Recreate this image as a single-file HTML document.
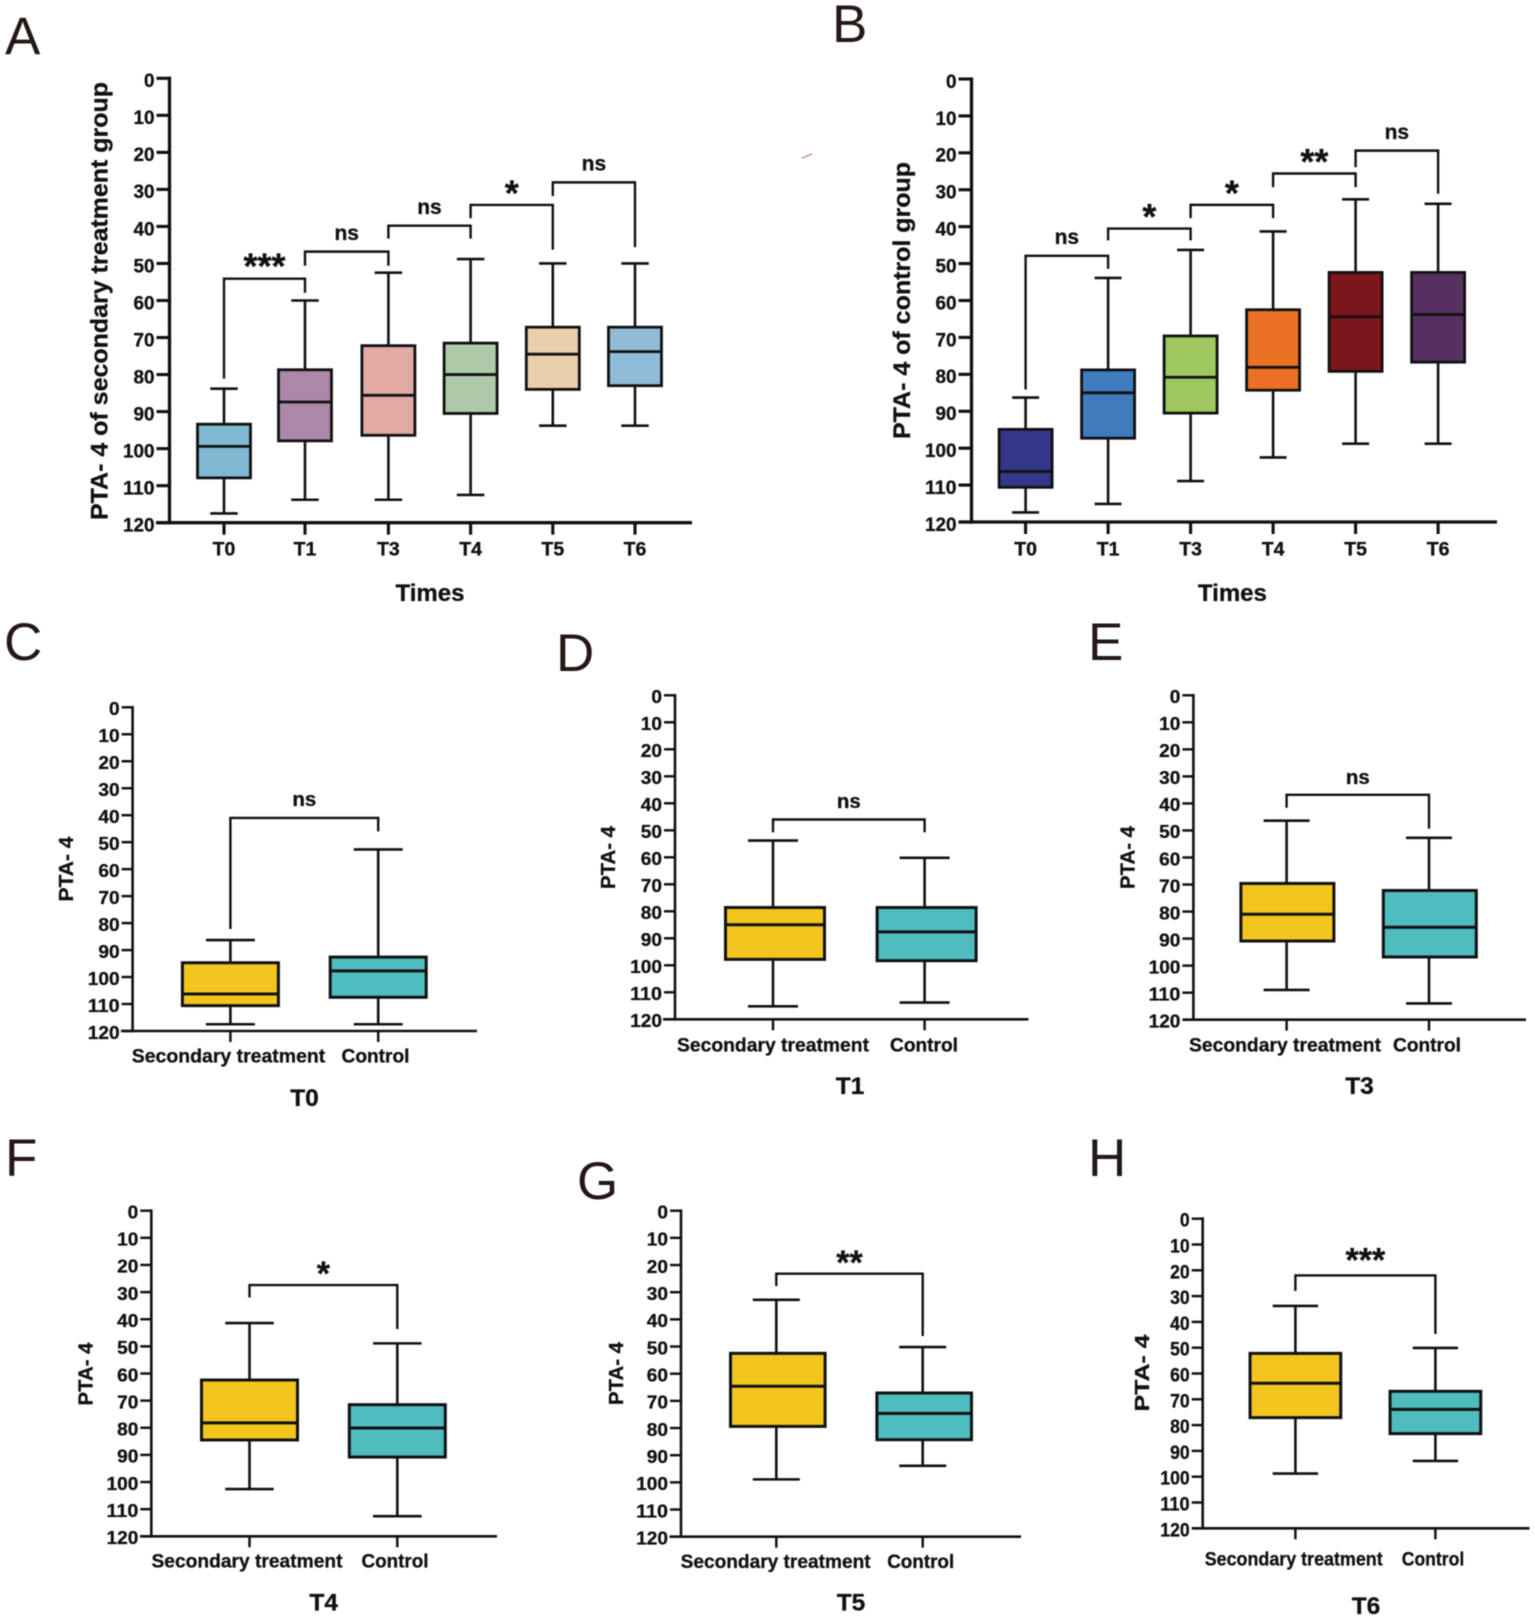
<!DOCTYPE html>
<html lang="en">
<head>
<meta charset="utf-8">
<title>PTA-4 box plots</title>
<style>
html,body{margin:0;padding:0;background:#fff;}
#figure{display:block;width:1535px;height:1620px;filter:blur(0.45px);}
text{font-family:"Liberation Sans",Arial,sans-serif;fill:#111;stroke:#111;stroke-width:0.3px;}
</style>
</head>
<body>
<svg id="figure" xmlns="http://www.w3.org/2000/svg" width="1535" height="1620" viewBox="0 0 1535 1620"></svg>
<script>
// Shared axis data
const yTicks = [0, 10, 20, 30, 40, 50, 60, 70, 80, 90, 100, 110, 120];
const timeCategories = ['T0', 'T1', 'T3', 'T4', 'T5', 'T6'];
const groupCategories = ['Secondary treatment', 'Control'];

// Panel A
const aWhiskerTop = [83.8, 60, 52.5, 48.8, 50, 50];
const aQ1 = [93.4, 78.7, 72.2, 71.5, 67.2, 67.2];
const aMedian = [99.4, 87.4, 85.6, 80, 74.5, 73.8];
const aQ3 = [107.9, 97.9, 96.4, 90.5, 84, 83];
const aWhiskerBottom = [117.5, 113.8, 113.8, 112.5, 93.8, 93.8];
const aBracketFrom = [0, 1, 2, 3, 4];
const aBracketTop = [54.1, 46.8, 39.8, 34.2, 28.1];
const aBracketLeftEnd = [81.1, 50.6, 43.3, 37.8, 31.8];
const aBracketRightEnd = [57.9, 50.6, 43.3, 46.3, 45.6];
const aBracketLabel = ['***', 'ns', 'ns', '*', 'ns'];
const aBracketLabelY = [49.3, 41.8, 34.8, 29.6, 23.1];

// Panel B
const bWhiskerTop = [86.3, 53.9, 46.3, 41.3, 32.6, 33.8];
const bQ1 = [94.9, 78.8, 69.6, 62.5, 52.4, 52.4];
const bMedian = [106.3, 85, 80.8, 78.1, 64.4, 63.8];
const bQ3 = [110.6, 97.3, 90.5, 84.3, 79.2, 76.7];
const bWhiskerBottom = [117.4, 115.1, 108.9, 102.5, 98.8, 98.8];
const bBracketFrom = [0, 1, 2, 3, 4];
const bBracketTop = [47.9, 40.5, 34.1, 25.6, 19.4];
const bBracketLeftEnd = [84.1, 43.7, 37.7, 29.3, 23.9];
const bBracketRightEnd = [51.4, 43.7, 37.7, 29.3, 31.1];
const bBracketLabel = ['ns', '*', '*', '**', 'ns'];
const bBracketLabelY = [42.9, 35.9, 29.5, 21, 14.5];

// Panels C-H
const cWhiskerTop = [86.3, 52.7];
const cQ1 = [94.7, 92.6];
const cMedian = [106.3, 97.7];
const cQ3 = [110.6, 107.5];
const cWhiskerBottom = [117.5, 117.5];
const cBracketTop = [41];
const cBracketLeftEnd = [82.2];
const cBracketRightEnd = [46];
const cBracketLabel = ['ns'];
const cBracketLabelY = [34.1];

const dWhiskerTop = [53.8, 60.2];
const dQ1 = [78.6, 78.6];
const dMedian = [85, 87.6];
const dQ3 = [97.8, 98.3];
const dWhiskerBottom = [115.2, 113.8];
const dBracketTop = [46];
const dBracketLeftEnd = [50.7];
const dBracketRightEnd = [50.7];
const dBracketLabel = ['ns'];
const dBracketLabelY = [39.4];

const eWhiskerTop = [46.4, 52.7];
const eQ1 = [69.6, 72.2];
const eMedian = [81, 85.8];
const eQ3 = [90.9, 96.8];
const eWhiskerBottom = [109, 114];
const eBracketTop = [36.8];
const eBracketLeftEnd = [41.6];
const eBracketRightEnd = [49.3];
const eBracketLabel = ['ns'];
const eBracketLabelY = [30.4];

const fWhiskerTop = [41.4, 48.9];
const fQ1 = [62.4, 71.5];
const fMedian = [78.2, 80.1];
const fQ3 = [84.5, 90.8];
const fWhiskerBottom = [102.6, 112.6];
const fBracketTop = [27.4];
const fBracketLeftEnd = [32];
const fBracketRightEnd = [43.6];
const fBracketLabel = ['*'];
const fBracketLabelY = [21.3];

const gWhiskerTop = [32.8, 50.2];
const gQ1 = [52.5, 67.1];
const gMedian = [64.6, 74.6];
const gQ3 = [79.4, 84.3];
const gWhiskerBottom = [98.9, 93.9];
const gBracketTop = [23.2];
const gBracketLeftEnd = [27.7];
const gBracketRightEnd = [46.1];
const gBracketLabel = ['**'];
const gBracketLabelY = [17.2];

const hWhiskerTop = [33.8, 50.1];
const hQ1 = [52.2, 66.9];
const hMedian = [63.8, 73.9];
const hQ3 = [77.1, 83.3];
const hWhiskerBottom = [98.8, 93.9];
const hBracketTop = [22];
const hBracketLeftEnd = [28];
const hBracketRightEnd = [44.7];
const hBracketLabel = ['***'];
const hBracketLabelY = [14.1];

// Styling (not data)
const aFills = ['#7fb8d0', '#ab88a8', '#e0aaa5', '#afcaa9', '#eacfab', '#90bcd8'];
const bFills = ['#35388a', '#3f7bbd', '#9cc85f', '#ea7024', '#7c151c', '#57305f'];
const groupFills = ['#f2c61e', '#4fbcbf'];

const svgNS = 'http://www.w3.org/2000/svg';
const figure = document.getElementById('figure');

function add(parent, tag, attrs, content) {
  const node = document.createElementNS(svgNS, tag);
  for (const k in attrs) node.setAttribute(k, attrs[k]);
  if (content !== undefined) node.textContent = content;
  parent.appendChild(node);
  return node;
}

function renderPanel(p) {
  const yScale = v => p.y0 + (v / 120) * (p.y120 - p.y0);
  const xScale = i => p.cat0 + i * p.step + (p.catNudge ? p.catNudge[i] : 0);
  const boxOffset = p.boxOffset || 0;
  const ink = '#111';

  const g = add(figure, 'g', {});
  
  

  const letter = add(g, 'text', {x: p.letterX, y: p.letterY, 'font-size': 53, style: 'fill:#231815;stroke:none'}, p.id.toUpperCase());
  
  

  const yAxis = add(g, 'line', {x1: p.axisX, x2: p.axisX, y1: yScale(0) - p.axisW / 2, y2: yScale(120) + p.axisW / 2, stroke: ink, 'stroke-width': p.axisW});
  
  

  const xAxis = add(g, 'line', {x1: p.xStart, x2: p.xEnd, y1: yScale(120), y2: yScale(120), stroke: ink, 'stroke-width': p.axisW});
  
  

  yTicks.forEach(t => {
    const tick = add(g, 'line', {x1: p.axisX - p.yTickLen, x2: p.axisX, y1: yScale(t), y2: yScale(t), stroke: ink, 'stroke-width': p.axisW * 0.95});
    
    
    const s = String(t);
    const label = add(g, 'text', {x: p.axisX - p.yTickLen - 2, y: yScale(t) + p.tickFs * 0.36 + p.tickDy, 'font-size': p.tickFs, 'font-weight': 'bold', 'text-anchor': 'end', textLength: (s.length * p.tickCharW).toFixed(1), lengthAdjust: 'spacingAndGlyphs'}, s);
    
    
  });

  p.categories.forEach((c, i) => {
    const x = xScale(i);
    const tick = add(g, 'line', {x1: x, x2: x, y1: yScale(120), y2: yScale(120) + p.xTickLen, stroke: ink, 'stroke-width': p.axisW * 0.95});
    
    

    const attrs = {x: p.catLabelX ? p.catLabelX[i] : x, y: p.catLabelY, 'font-size': p.catFs, 'font-weight': 'bold', 'text-anchor': 'middle'};
    if (p.catLabelW) { attrs.textLength = p.catLabelW[i]; attrs.lengthAdjust = 'spacingAndGlyphs'; }
    const label = add(g, 'text', attrs, c);
    
    

    const box = add(g, 'g', {});
    
    

    const whisker = add(box, 'line', {x1: x, x2: x, y1: yScale(p.whiskerTop[i]), y2: yScale(p.whiskerBottom[i]), stroke: ink, 'stroke-width': p.lineW});
    
    

    const capTop = add(box, 'line', {x1: x - p.capW / 2, x2: x + p.capW / 2, y1: yScale(p.whiskerTop[i]), y2: yScale(p.whiskerTop[i]), stroke: ink, 'stroke-width': p.lineW});
    
    

    const capBottom = add(box, 'line', {x1: x - p.capW / 2, x2: x + p.capW / 2, y1: yScale(p.whiskerBottom[i]), y2: yScale(p.whiskerBottom[i]), stroke: ink, 'stroke-width': p.lineW});
    
    

    const rect = add(box, 'rect', {x: x + boxOffset - p.boxW / 2, y: yScale(p.q1[i]), width: p.boxW, height: yScale(p.q3[i]) - yScale(p.q1[i]), fill: p.fills[i], stroke: ink, 'stroke-width': p.boxStroke});
    
    

    const median = add(box, 'line', {x1: x + boxOffset - p.boxW / 2, x2: x + boxOffset + p.boxW / 2, y1: yScale(p.median[i]), y2: yScale(p.median[i]), stroke: ink, 'stroke-width': p.boxStroke});
    
    
  });

  p.bracketTop.forEach((top, i) => {
    const from = p.bracketFrom ? p.bracketFrom[i] : 0;
    const xa = xScale(from), xb = xScale(from + 1);
    const d = 'M' + xa + ' ' + yScale(p.bracketLeftEnd[i]) + ' V' + yScale(top) + ' H' + xb + ' V' + yScale(p.bracketRightEnd[i]);
    const bracket = add(g, 'path', {d: d, fill: 'none', stroke: ink, 'stroke-width': p.bracketW});
    
    

    const txt = p.bracketLabel[i];
    const star = txt.indexOf('*') >= 0;
    const fs = star ? p.starFs : p.nsFs;
    const by = yScale(p.bracketLabelY[i]) + (star ? fs * 0.49 : fs * 0.32);
    const label = add(g, 'text', {x: (xa + xb) / 2, y: by, 'font-size': fs, 'font-weight': 'bold', 'text-anchor': 'middle'}, txt);
    
    
  });

  const yTitle = add(g, 'text', {transform: 'translate(' + p.yTitleX + ' ' + p.yTitleY + ') rotate(-90)', 'font-size': p.yTitleFs, 'font-weight': 'bold', 'text-anchor': 'middle', textLength: p.yTitleW, lengthAdjust: 'spacingAndGlyphs'}, p.yTitle);
  
  

  const xTitle = add(g, 'text', {x: p.xTitleX, y: p.xTitleY, 'font-size': p.xTitleFs, 'font-weight': 'bold', 'text-anchor': 'middle'}, p.xTitle);
  
  
}

const wideStyle = {axisW: 3.3, yTickLen: 13, xTickLen: 12, tickFs: 19, tickCharW: 10.5, tickDy: 2, catFs: 19.5, boxStroke: 2.8, lineW: 2.6, bracketW: 2.4, starFs: 36, nsFs: 21, yTitleFs: 24, xTitleFs: 24};
const smallStyle = {axisW: 2.6, yTickLen: 11, xTickLen: 11, tickFs: 18.8, tickCharW: 10.6, tickDy: 1, catFs: 19.5, boxStroke: 3, lineW: 2.6, bracketW: 2.4, starFs: 34, nsFs: 20.5, yTitleFs: 20.5, xTitleFs: 24.5, categories: groupCategories, fills: groupFills};

renderPanel(Object.assign({}, wideStyle, {
  id: 'a', letterX: 5, letterY: 54,
  axisX: 169.5, y0: 78.3, y120: 522.7, xStart: 156, xEnd: 692, cat0: 224, step: 82.2, catNudge: [0, -1.2, 0, 0, 0, 0], boxW: 53, capW: 27.5,
  categories: timeCategories, fills: aFills, catLabelY: 555.6,
  whiskerTop: aWhiskerTop, q1: aQ1, median: aMedian, q3: aQ3, whiskerBottom: aWhiskerBottom,
  bracketFrom: aBracketFrom, bracketTop: aBracketTop, bracketLeftEnd: aBracketLeftEnd, bracketRightEnd: aBracketRightEnd, bracketLabel: aBracketLabel, bracketLabelY: aBracketLabelY,
  yTitle: 'PTA- 4 of secondary treatment group', yTitleX: 107.5, yTitleY: 301, yTitleW: 438,
  xTitle: 'Times', xTitleX: 430, xTitleY: 601
}));

renderPanel(Object.assign({}, wideStyle, {
  id: 'b', letterX: 832, letterY: 42,
  axisX: 971.5, y0: 79, y120: 522, xStart: 959, xEnd: 1497, cat0: 1025.6, step: 82.5, boxW: 53, capW: 27,
  categories: timeCategories, fills: bFills, catLabelY: 555.6,
  whiskerTop: bWhiskerTop, q1: bQ1, median: bMedian, q3: bQ3, whiskerBottom: bWhiskerBottom,
  bracketFrom: bBracketFrom, bracketTop: bBracketTop, bracketLeftEnd: bBracketLeftEnd, bracketRightEnd: bBracketRightEnd, bracketLabel: bBracketLabel, bracketLabelY: bBracketLabelY,
  yTitle: 'PTA- 4 of control group', yTitleX: 910, yTitleY: 300.5, yTitleW: 277,
  xTitle: 'Times', xTitleX: 1232.4, xTitleY: 601
}));

renderPanel(Object.assign({}, smallStyle, {
  id: 'c', letterX: 4, letterY: 660,
  axisX: 132.6, y0: 707.3, y120: 1031, xStart: 121, xEnd: 477, cat0: 230.4, step: 147.8, boxW: 96, capW: 49,
  catLabelX: [228.5, 375.5], catLabelW: [193.5, 68], catLabelY: 1062.7,
  whiskerTop: cWhiskerTop, q1: cQ1, median: cMedian, q3: cQ3, whiskerBottom: cWhiskerBottom,
  bracketTop: cBracketTop, bracketLeftEnd: cBracketLeftEnd, bracketRightEnd: cBracketRightEnd, bracketLabel: cBracketLabel, bracketLabelY: cBracketLabelY,
  yTitle: 'PTA- 4', yTitleX: 73, yTitleY: 869, yTitleW: 65,
  xTitle: 'T0', xTitleX: 304.5, xTitleY: 1106
}));

renderPanel(Object.assign({}, smallStyle, {
  id: 'd', letterX: 556, letterY: 671,
  axisX: 675, y0: 695.3, y120: 1019.3, xStart: 663, xEnd: 1028.5, cat0: 773, step: 151.6, boxOffset: 2, boxW: 99, capW: 50,
  catLabelX: [773, 924], catLabelW: [192, 68], catLabelY: 1051.7,
  whiskerTop: dWhiskerTop, q1: dQ1, median: dMedian, q3: dQ3, whiskerBottom: dWhiskerBottom,
  bracketTop: dBracketTop, bracketLeftEnd: dBracketLeftEnd, bracketRightEnd: dBracketRightEnd, bracketLabel: dBracketLabel, bracketLabelY: dBracketLabelY,
  yTitle: 'PTA- 4', yTitleX: 615, yTitleY: 857.5, yTitleW: 63,
  xTitle: 'T1', xTitleX: 850, xTitleY: 1094
}));

renderPanel(Object.assign({}, smallStyle, {
  id: 'e', letterX: 1088, letterY: 660,
  axisX: 1193.4, y0: 695.3, y120: 1019.7, xStart: 1182.7, xEnd: 1526, cat0: 1286.6, step: 142.4, boxOffset: 0.8, boxW: 93, capW: 46,
  catLabelX: [1285, 1427], catLabelW: [192, 68], catLabelY: 1051.7,
  whiskerTop: eWhiskerTop, q1: eQ1, median: eMedian, q3: eQ3, whiskerBottom: eWhiskerBottom,
  bracketTop: eBracketTop, bracketLeftEnd: eBracketLeftEnd, bracketRightEnd: eBracketRightEnd, bracketLabel: eBracketLabel, bracketLabelY: eBracketLabelY,
  yTitle: 'PTA- 4', yTitleX: 1134.5, yTitleY: 857.5, yTitleW: 63,
  xTitle: 'T3', xTitleX: 1359.5, xTitleY: 1094
}));

renderPanel(Object.assign({}, smallStyle, {
  id: 'f', letterX: 5, letterY: 1176,
  axisX: 151.3, y0: 1210.7, y120: 1536.3, xStart: 140, xEnd: 497, cat0: 249.5, step: 147.8, boxW: 96, capW: 48.6,
  catLabelX: [247, 395], catLabelW: [191, 67], catLabelY: 1567.7,
  whiskerTop: fWhiskerTop, q1: fQ1, median: fMedian, q3: fQ3, whiskerBottom: fWhiskerBottom,
  bracketTop: fBracketTop, bracketLeftEnd: fBracketLeftEnd, bracketRightEnd: fBracketRightEnd, bracketLabel: fBracketLabel, bracketLabelY: fBracketLabelY,
  yTitle: 'PTA- 4', yTitleX: 92.5, yTitleY: 1374, yTitleW: 63,
  xTitle: 'T4', xTitleX: 323.7, xTitleY: 1610.7
}));

renderPanel(Object.assign({}, smallStyle, {
  id: 'g', letterX: 577, letterY: 1199,
  axisX: 681, y0: 1210.7, y120: 1536.7, xStart: 669.5, xEnd: 1021, cat0: 776.3, step: 146.4, boxOffset: 1.5, boxW: 94.6, capW: 47,
  catLabelX: [775.6, 920.7], catLabelW: [190, 67], catLabelY: 1568,
  whiskerTop: gWhiskerTop, q1: gQ1, median: gMedian, q3: gQ3, whiskerBottom: gWhiskerBottom,
  bracketTop: gBracketTop, bracketLeftEnd: gBracketLeftEnd, bracketRightEnd: gBracketRightEnd, bracketLabel: gBracketLabel, bracketLabelY: gBracketLabelY,
  yTitle: 'PTA- 4', yTitleX: 623, yTitleY: 1373.5, yTitleW: 63,
  xTitle: 'T5', xTitleX: 851, xTitleY: 1610.7
}));

renderPanel(Object.assign({}, smallStyle, {
  id: 'h', letterX: 1088, letterY: 1176,
  axisX: 1202.7, y0: 1218.7, y120: 1528.3, xStart: 1192, xEnd: 1529.5, cat0: 1295.4, step: 140, boxW: 90.7, capW: 45.4,
  tickCharW: 9.8, tickFs: 19.5,
  catLabelX: [1293.7, 1433], catLabelW: [178, 62.5], catLabelY: 1565.7,
  whiskerTop: hWhiskerTop, q1: hQ1, median: hMedian, q3: hQ3, whiskerBottom: hWhiskerBottom,
  bracketTop: hBracketTop, bracketLeftEnd: hBracketLeftEnd, bracketRightEnd: hBracketRightEnd, bracketLabel: hBracketLabel, bracketLabelY: hBracketLabelY,
  yTitle: 'PTA- 4', yTitleX: 1149, yTitleY: 1373, yTitleW: 77,
  xTitle: 'T6', xTitleX: 1366, xTitleY: 1614
}));

const speck = add(figure, 'path', {d: 'M802 158 L812 154', stroke: '#a9685f', 'stroke-width': 1.2, fill: 'none'});


</script>
</body>
</html>
